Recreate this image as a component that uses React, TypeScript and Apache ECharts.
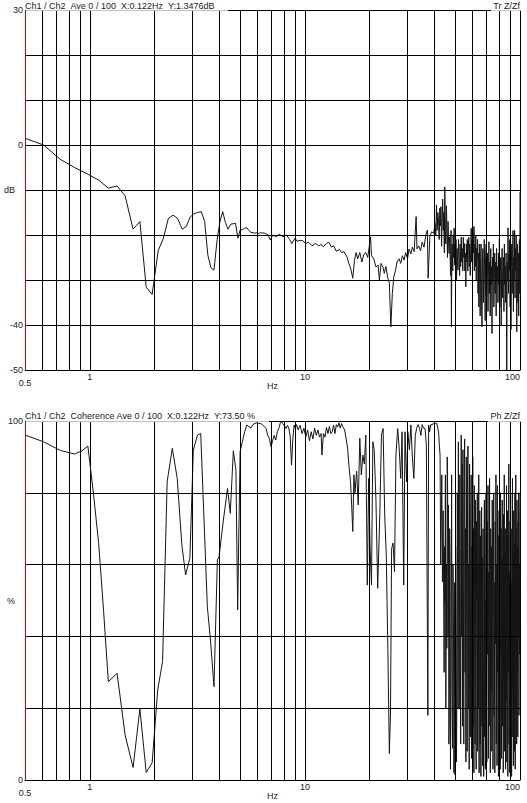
import React, { useEffect, useRef } from 'react';
import * as echarts from 'echarts';

// ---------- data ----------
const xGridMinor = [0.6, 0.7, 0.8, 0.9, 2, 3, 4, 5, 6, 7, 8, 9, 20, 30, 40, 50, 60, 70, 80, 90];
const trYLabels = [30, 0, -40, -50];
const cohYLabels = [0, 100];
const trTitle = 'Ch1 / Ch2 \u00a0Ave 0 / 100 \u00a0X:0.122Hz \u00a0Y:1.3476dB';
const trTag = 'Tr Z/Zf';
const cohTitle = 'Ch1 / Ch2 \u00a0Coherence Ave 0 / 100 \u00a0X:0.122Hz \u00a0Y:73.50 %';
const cohTag = 'Ph Z/Zf';

// transfer function magnitude [Hz, dB]
const trPoints: [number, number][] = [
  [0.5, 1.5], [0.61, 0.0], [0.73, -3.2], [0.85, -5.0], [0.98, -6.5], [1.10, -7.8], [1.22, -9.6],
  [1.34, -9.1], [1.46, -11.3], [1.59, -18.7], [1.71, -17.0], [1.83, -31.6], [1.95, -33.2],
  [2.08, -23.5], [2.20, -20.7], [2.32, -16.3], [2.44, -15.6], [2.56, -16.3], [2.69, -18.7],
  [2.81, -18.1], [2.93, -16.0], [3.05, -15.3], [3.17, -15.0], [3.30, -14.8], [3.42, -17.0],
  [3.54, -24.5], [3.66, -27.3], [3.78, -27.8], [3.91, -21.0], [4.03, -17.0], [4.15, -14.8],
  [4.27, -17.2], [4.39, -18.7], [4.52, -17.6], [4.64, -17.5], [4.76, -17.4], [4.88, -20.7],
  [5.00, -18.9], [5.13, -18.8], [5.25, -18.5], [5.37, -18.4], [5.49, -19.0], [5.61, -19.4],
  [5.74, -19.5], [5.86, -19.6], [5.98, -19.5], [6.10, -19.7], [6.2, -19.5],
  [6.5, -19.6], [6.75, -20.0], [6.9, -21.1], [7.1, -20.0], [7.4, -20.4], [7.6, -19.8], [7.9, -20.4],
  [8.2, -20.0], [8.5, -21.0], [8.7, -21.9], [9.0, -20.7], [9.2, -21.4], [9.5, -21.2], [9.8, -21.3],
  [10.1, -21.9], [10.4, -21.6], [10.8, -22.4], [11.2, -21.9], [11.6, -22.4], [11.9, -22.1],
  [12.2, -22.6], [12.6, -21.9], [12.9, -21.6], [13.3, -22.7], [13.6, -22.4], [14.0, -23.6],
  [14.5, -23.2], [14.8, -23.9], [15.2, -23.7], [15.7, -24.9], [16.0, -26.3], [16.3, -27.3],
  [16.7, -29.6], [17.0, -25.6], [17.3, -23.9], [17.6, -25.3], [18.0, -23.9], [18.4, -26.0],
  [18.8, -24.3], [19.2, -23.9], [19.6, -25.0], [20.2, -20.4], [20.4, -24.6], [20.9, -25.3],
  [21.4, -27.1], [21.9, -26.7], [22.2, -30.0], [22.6, -26.3], [23.1, -27.2], [23.4, -28.5],
  [23.8, -27.0], [24.3, -29.6], [24.7, -30.7], [25.1, -40.4], [25.5, -33.0], [25.9, -29.3],
  [26.4, -27.8], [26.8, -26.0], [27.4, -25.3], [27.9, -26.3], [28.4, -24.6], [28.9, -25.6],
  [29.4, -23.9], [30.0, -25.3], [30.5, -23.1], [31.1, -24.2], [31.6, -22.7], [32.2, -23.7],
  [32.9, -15.9], [33.2, -23.1], [33.8, -22.4], [34.5, -23.5], [35.1, -21.6], [35.8, -22.7],
  [36.5, -20.0], [37.1, -18.9], [37.4, -29.6], [38.1, -20.4], [38.8, -19.3], [39.7, -19.6],
  [40.3, -17.4], [40.6, -20.0], [40.9, -13.3], [41.2, -19.0], [41.5, -15.0], [41.8, -16.7],
  [42.1, -21.0], [42.4, -14.0], [42.7, -18.0], [42.9, -13.7], [43.2, -22.5], [43.5, -16.0],
  [43.7, -12.0], [44.0, -19.0], [44.2, -15.0], [44.5, -24.0], [44.7, -9.3], [45.0, -19.0],
  [45.2, -22.0], [45.5, -13.5], [45.8, -20.0], [46.0, -25.0], [46.3, -17.0], [46.6, -22.0],
  [46.8, -24.1], [47.1, -20.4], [47.4, -26.0], [47.6, -29.0], [47.8, -19.0], [48.0, -40.4],
  [48.2, -24.0], [48.4, -22.0], [48.7, -28.0], [48.9, -20.0], [49.2, -25.0], [49.4, -18.5],
  [49.7, -26.7], [49.9, -22.0], [50.2, -29.0], [50.4, -21.0], [50.7, -30.0], [51.0, -23.0],
  [51.2, -26.0], [51.5, -27.8], [51.8, -21.0], [52.1, -25.0], [52.4, -29.0], [52.7, -22.0],
  [53.0, -27.0], [53.3, -20.5], [53.6, -26.0], [53.9, -23.0], [54.2, -28.0], [54.5, -20.5],
  [54.8, -25.0], [55.1, -21.9], [55.4, -28.0], [55.7, -24.0], [56.0, -31.5], [56.3, -22.0],
  [56.6, -26.0], [56.9, -21.0], [57.2, -28.0], [57.5, -23.0], [57.8, -20.5], [58.1, -27.0],
  [58.4, -22.0], [58.7, -29.0], [59.0, -24.0], [59.3, -18.5], [59.6, -26.0], [59.9, -21.0],
  [60.2, -28.0], [60.5, -19.0], [60.8, -24.0], [61.1, -18.1], [61.4, -28.0], [61.7, -22.0],
  [62.0, -27.0], [62.3, -20.0], [62.6, -30.0], [62.9, -23.0], [63.2, -25.0], [63.5, -21.0],
  [63.8, -33.0], [64.1, -24.0], [64.4, -36.0], [64.7, -22.0], [65.0, -30.0], [65.3, -38.0],
  [65.6, -25.0], [65.9, -22.0], [66.2, -33.0], [66.6, -40.4], [66.9, -26.0], [67.2, -23.0],
  [67.6, -35.0], [67.9, -28.0], [68.2, -21.0], [68.6, -31.0], [68.9, -39.0], [69.2, -25.0],
  [69.6, -22.0], [69.9, -34.0], [70.3, -27.0], [70.6, -24.0], [71.0, -37.0], [71.3, -29.0],
  [71.7, -21.5], [72.0, -33.0], [72.4, -26.0], [72.7, -38.0], [73.1, -23.0], [73.5, -31.0],
  [73.8, -27.0], [74.1, -41.9], [74.5, -25.0], [74.9, -30.0], [75.2, -22.0], [75.6, -36.0],
  [76.0, -28.0], [76.3, -24.0], [76.7, -33.0], [77.1, -26.0], [77.5, -38.0], [77.8, -23.0],
  [78.2, -30.0], [78.6, -27.0], [79.0, -35.0], [79.4, -24.0], [79.8, -31.0], [80.2, -20.7],
  [80.6, -36.0], [81.0, -28.0], [81.4, -25.0], [81.8, -40.0], [82.2, -27.0], [82.6, -23.0],
  [83.0, -34.0], [83.4, -29.0], [83.8, -25.0], [84.2, -37.0], [84.6, -22.0], [85.0, -31.0],
  [85.4, -27.0], [85.8, -35.0], [86.2, -24.0], [86.8, -50.0], [87.2, -26.0], [87.6, -30.0],
  [88.0, -18.4], [88.4, -33.0], [88.8, -24.0], [89.2, -28.0], [89.6, -21.0], [90.0, -36.0],
  [90.4, -20.0], [90.8, -41.0], [91.2, -26.0], [91.6, -22.0], [92.0, -33.0], [92.4, -27.0],
  [92.8, -19.0], [93.2, -37.0], [93.6, -25.0], [94.0, -30.0], [94.4, -19.0], [94.8, -34.0],
  [95.2, -23.0], [95.6, -28.0], [96.0, -20.0], [96.6, -41.5], [97.0, -26.0], [97.4, -22.0],
  [97.8, -35.0], [98.2, -24.0], [98.6, -38.0], [99.0, -27.0], [99.4, -21.0], [99.8, -33.0],
  [100, -10.4],
];

// coherence [Hz, %]
const cohPoints: [number, number][] = [
  [0.5, 96.1], [0.61, 94.2], [0.73, 91.8], [0.85, 90.8], [0.92, 91.7], [0.98, 93.0], [1.04, 79.9],
  [1.10, 65.9], [1.16, 47.0], [1.22, 27.4], [1.34, 29.7], [1.46, 12.5], [1.59, 3.5], [1.71, 19.8],
  [1.83, 2.1], [1.95, 4.8], [2.07, 25.1], [2.18, 33.0], [2.29, 83.1], [2.42, 92.4], [2.55, 84.0],
  [2.68, 65.5], [2.79, 57.1], [2.92, 61.8], [3.03, 91.9], [3.17, 96.1], [3.28, 96.5], [3.52, 48.3],
  [3.64, 39.0], [3.78, 26.0], [3.92, 61.3], [3.99, 62.2], [4.18, 72.4], [4.37, 81.2], [4.50, 74.3],
  [4.65, 91.7], [4.78, 86.4], [4.87, 47.4], [5.00, 91.5], [5.12, 94.2], [5.25, 97.0], [5.37, 98.9],
  [5.49, 98.4], [5.61, 98.1], [5.73, 99.0], [5.86, 99.3], [5.98, 99.5], [6.10, 99.3], [6.22, 99.3],
  [6.35, 99.0], [6.47, 98.5], [6.60, 97.9], [6.72, 96.0], [6.84, 95.1], [6.96, 92.8], [7.08, 94.5],
  [7.20, 96.0], [7.32, 94.7], [7.45, 97.0], [7.57, 98.0], [7.69, 99.5], [7.81, 99.6], [7.94, 99.2],
  [8.06, 98.5], [8.18, 97.9], [8.30, 98.8], [8.42, 98.0], [8.54, 96.0], [8.67, 87.7], [8.79, 95.0],
  [8.91, 98.9], [9.03, 97.9], [9.15, 99.0], [9.3, 97.5], [9.5, 98.8], [9.7, 96.5], [9.9, 98.0],
  [10.1, 95.5], [10.3, 97.5], [10.5, 94.5], [10.7, 97.0], [10.9, 95.0], [11.1, 98.0], [11.3, 96.0],
  [11.5, 97.5], [11.7, 95.5], [11.9, 96.5], [12.0, 90.5], [12.2, 96.5], [12.4, 95.5], [12.6, 98.2],
  [12.8, 96.5], [13.0, 98.5], [13.2, 96.5], [13.4, 97.0], [13.6, 98.8], [13.8, 96.5], [14.0, 99.0],
  [14.2, 98.3], [14.4, 99.5], [14.6, 98.0], [14.8, 99.3], [15.0, 98.5], [15.3, 97.5], [15.5, 95.6],
  [15.8, 92.4], [16.0, 88.0], [16.3, 83.1], [16.5, 76.6], [16.7, 69.2], [16.9, 85.0], [17.1, 80.0],
  [17.4, 86.0], [17.7, 76.6], [18.0, 95.2], [18.3, 85.0], [18.6, 90.5], [18.9, 88.0], [19.2, 96.1],
  [19.5, 54.3], [19.8, 84.0], [20.1, 64.5], [20.4, 54.3], [20.7, 94.2], [21.0, 92.0], [21.4, 78.0],
  [21.8, 53.4], [22.3, 74.0], [22.7, 96.1], [23.1, 97.9], [23.5, 73.8], [23.9, 62.7], [24.3, 36.7],
  [24.7, 7.4], [25.0, 18.1], [25.3, 64.5], [25.7, 66.0], [26.1, 58.0], [26.5, 90.5], [27.0, 97.9],
  [27.4, 93.0], [27.9, 84.0], [28.3, 97.0], [28.8, 54.3], [29.2, 97.0], [29.7, 83.0], [30.1, 97.0],
  [30.6, 92.0], [31.1, 98.9], [31.6, 90.0], [32.1, 84.0], [32.6, 96.0], [33.1, 98.0], [33.6, 99.0],
  [34.1, 98.0], [34.6, 96.0], [35.1, 99.0], [35.6, 98.0], [36.2, 97.9], [36.7, 93.3], [37.3, 18.0],
  [37.6, 98.9], [38.0, 97.0], [38.5, 99.0], [39.0, 98.9], [39.6, 99.4], [40.0, 99.0], [40.5, 99.4],
  [41.0, 99.4], [41.5, 98.0], [41.9, 96.5], [42.2, 93.0], [42.5, 90.5], [42.8, 60.0], [43.0, 71.0],
  [43.3, 85.0], [43.6, 55.2], [43.9, 75.0], [44.1, 60.0], [44.4, 30.0], [44.6, 65.0], [44.8, 49.7],
  [45.0, 85.0], [45.2, 20.0], [45.5, 60.0], [45.7, 36.7], [45.9, 90.0], [46.1, 80.0], [46.3, 40.0],
  [46.5, 76.6], [46.7, 10.0], [46.9, 18.1], [47.1, 70.0], [47.3, 60.0], [47.5, 3.0], [47.6, 10.0],
  [47.9, 49.7], [48.1, 85.0], [48.3, 25.0], [48.6, 8.8], [48.8, 60.0], [49.1, 40.0], [49.3, 2.0],
  [49.5, 15.0], [49.7, 55.0], [49.9, 1.4], [50.2, 65.0], [50.4, 45.0], [50.7, 5.0], [50.9, 32.0],
  [51.1, 80.0], [51.3, 70.0], [51.5, 20.0], [51.7, 94.2], [52.0, 35.0], [52.2, 20.0], [52.5, 85.0],
  [52.7, 52.0], [53.0, 10.0], [53.3, 96.1], [53.55, 40.0], [53.8, 88.0], [54.05, 15.0], [54.3, 92.0],
  [54.55, 55.0], [54.8, 10.0], [55.05, 80.0], [55.3, 95.0], [55.55, 30.0], [55.8, 70.0], [56.05, 5.0],
  [56.3, 90.0], [56.55, 45.0], [56.8, 8.0], [57.05, 85.0], [57.3, 93.0], [57.55, 20.0], [57.8, 60.0],
  [58.05, 3.0], [58.3, 88.0], [58.55, 50.0], [58.8, 12.0], [59.05, 75.0], [59.3, 85.0], [59.55, 6.0],
  [59.8, 65.0], [60.05, 30.0], [60.3, 90.0], [60.55, 15.0], [60.8, 70.0], [61.05, 2.0], [61.3, 82.0],
  [61.55, 40.0], [61.8, 10.0], [62.05, 78.0], [62.3, 25.0], [62.55, 3.0], [62.8, 72.0], [63.05, 50.0],
  [63.3, 80.0], [63.55, 8.0], [63.8, 60.0], [64.05, 20.0], [64.3, 85.0], [64.55, 2.0], [64.8, 55.0],
  [65.05, 75.0], [65.3, 10.0], [65.55, 68.0], [65.8, 1.0], [66.05, 45.0], [66.3, 76.0], [66.55, 15.0],
  [66.8, 62.0], [67.05, 4.0], [67.3, 70.0], [67.55, 30.0], [67.8, 1.0], [68.05, 58.0], [68.3, 78.0],
  [68.55, 12.0], [68.8, 50.0], [69.05, 3.0], [69.3, 66.0], [69.55, 80.0], [69.8, 20.0], [70.1, 5.0],
  [70.4, 72.0], [70.7, 35.0], [71.0, 82.0], [71.3, 6.0], [71.6, 58.0], [71.9, 15.0], [72.2, 84.0],
  [72.5, 40.0], [72.8, 2.0], [73.1, 70.0], [73.4, 25.0], [73.7, 65.0], [74.0, 8.0], [74.3, 78.0],
  [74.6, 50.0], [74.9, 3.0], [75.2, 62.0], [75.5, 80.0], [75.8, 18.0], [76.1, 55.0], [76.4, 2.0],
  [76.7, 72.0], [77.0, 38.0], [77.3, 85.0], [77.6, 10.0], [77.9, 60.0], [78.2, 4.0], [78.5, 82.0],
  [78.8, 30.0], [79.1, 68.0], [79.4, 1.0], [79.7, 58.0], [80.0, 75.0], [80.3, 12.0], [80.6, 66.0],
  [80.9, 3.0], [81.2, 80.0], [81.5, 35.0], [81.8, 70.0], [82.1, 6.0], [82.4, 50.0], [82.7, 78.0],
  [83.0, 15.0], [83.3, 62.0], [83.6, 2.0], [83.9, 74.0], [84.2, 28.0], [84.5, 85.0], [84.8, 8.0],
  [85.1, 55.0], [85.4, 70.0], [85.7, 3.0], [86.0, 64.0], [86.3, 22.0], [86.6, 82.0], [86.9, 5.0],
  [87.2, 48.0], [87.5, 75.0], [87.8, 1.0], [88.1, 68.0], [88.4, 30.0], [88.7, 88.0], [89.0, 10.0],
  [89.3, 58.0], [89.6, 2.0], [89.9, 72.0], [90.2, 40.0], [90.5, 80.0], [90.8, 6.0], [91.1, 55.0],
  [91.4, 1.0], [91.7, 70.0], [92.0, 25.0], [92.3, 84.0], [92.6, 12.0], [92.9, 62.0], [93.2, 4.0],
  [93.5, 75.0], [93.8, 35.0], [94.1, 66.0], [94.4, 8.0], [94.7, 80.0], [95.0, 3.0], [95.3, 58.0],
  [95.6, 85.0], [95.9, 20.0], [96.2, 70.0], [96.5, 10.0], [96.8, 78.0], [97.1, 30.0], [97.4, 65.0],
  [97.7, 12.0], [98.0, 72.0], [98.3, 40.0], [98.6, 80.0], [98.9, 18.0], [99.2, 60.0], [99.5, 35.0],
  [99.8, 75.0], [100, 80.0],
];

// ---------- styling ----------
const FONT = '"Liberation Sans", Arial, sans-serif';
const TXT = { color: '#222', fontSize: 9, fontFamily: FONT };

function makeXAxis(gridIndex: number) {
  return {
    type: 'log',
    logBase: 10,
    gridIndex,
    min: 0.5,
    max: 100,
    axisLine: { show: true, onZero: false, lineStyle: { color: '#000', width: 1 } },
    axisTick: { show: false },
    axisLabel: {
      ...TXT,
      margin: 2,
      alignMaxLabel: 'right',
      formatter: (v: number) => (Math.abs(v - 0.5) < 1e-6 ? '{lo|0.5}' : String(Math.round(v))),
      rich: { lo: { ...TXT, padding: [6, 0, 0, 0] } },
    },
    splitLine: { show: true, showMinLine: false, lineStyle: { color: '#000', width: 1 } },
    name: 'Hz',
    nameLocation: 'middle',
    nameGap: 11,
    nameMoveOverlap: false,
    nameTextStyle: TXT,
  };
}

function makeYAxis(gridIndex: number, min: number, max: number, interval: number, labels: number[], name: string) {
  return {
    type: 'value',
    gridIndex,
    min,
    max,
    interval,
    z: 5,
    axisLine: { show: true, onZero: false, lineStyle: { color: '#e00000', width: 1 } },
    axisTick: { show: false },
    axisLabel: {
      ...TXT,
      margin: 2,
      formatter: (v: number) => (labels.indexOf(v) >= 0 ? String(v) : ''),
    },
    splitLine: { show: true, lineStyle: { color: '#000', width: 1 } },
    name,
    nameLocation: 'middle',
    nameGap: 10,
    nameRotate: 0,
    nameMoveOverlap: false,
    nameTextStyle: TXT,
  };
}

function gridMarkLine() {
  return {
    silent: true,
    symbol: ['none', 'none'],
    label: { show: false },
    emphasis: { disabled: true },
    lineStyle: { color: '#000', width: 1, type: 'solid', opacity: 1 },
    data: xGridMinor.map((v) => ({ xAxis: v })),
  };
}

function lineSeries(idx: number, data: [number, number][]) {
  return {
    type: 'line',
    xAxisIndex: idx,
    yAxisIndex: idx,
    data,
    showSymbol: false,
    symbol: 'none',
    silent: true,
    lineStyle: { color: '#151515', width: 1 },
    markLine: gridMarkLine(),
  };
}

export default function App() {
  const ref = useRef<HTMLDivElement>(null);
  useEffect(() => {
    if (!ref.current) return;
    const chart = echarts.init(ref.current, undefined, { renderer: 'svg' });
    const option: any = {
      animation: false,
      backgroundColor: '#fff',
      grid: [
        { left: 25, top: 10, width: 495, height: 360, outerBoundsMode: 'none', containLabel: false },
        { left: 25, top: 421, width: 495, height: 359, outerBoundsMode: 'none', containLabel: false },
      ],
      xAxis: [makeXAxis(0), makeXAxis(1)],
      yAxis: [
        makeYAxis(0, -50, 30, 10, trYLabels, 'dB'),
        makeYAxis(1, 0, 100, 20, cohYLabels, '%'),
      ],
      series: [lineSeries(0, trPoints), lineSeries(1, cohPoints)],
      graphic: [
        { type: 'rect', z: 100, shape: { x: 26, y: 0, width: 202, height: 10.8 }, style: { fill: '#fff' } },
        { type: 'text', z: 101, x: 25, y: 6, style: { text: trTitle, fill: '#222', fontSize: 9, fontFamily: FONT, textAlign: 'left', textVerticalAlign: 'middle' } },
        { type: 'rect', z: 100, shape: { x: 491, y: 0, width: 30, height: 10.8 }, style: { fill: '#fff' } },
        { type: 'text', z: 101, x: 520, y: 6, style: { text: trTag, fill: '#222', fontSize: 9, fontFamily: FONT, textAlign: 'right', textVerticalAlign: 'middle' } },
        { type: 'rect', z: 100, shape: { x: 26, y: 410, width: 243, height: 11.8 }, style: { fill: '#fff' } },
        { type: 'text', z: 101, x: 25, y: 416, style: { text: cohTitle, fill: '#222', fontSize: 9, fontFamily: FONT, textAlign: 'left', textVerticalAlign: 'middle' } },
        { type: 'rect', z: 100, shape: { x: 488, y: 410, width: 33, height: 11.8 }, style: { fill: '#fff' } },
        { type: 'text', z: 101, x: 520, y: 416, style: { text: cohTag, fill: '#222', fontSize: 9, fontFamily: FONT, textAlign: 'right', textVerticalAlign: 'middle' } },
      ],
    };
    chart.setOption(option);
    return () => chart.dispose();
  }, []);
  return <div ref={ref} style={{ position: 'absolute', left: 0, top: 0, width: 527, height: 803 }} />;
}
